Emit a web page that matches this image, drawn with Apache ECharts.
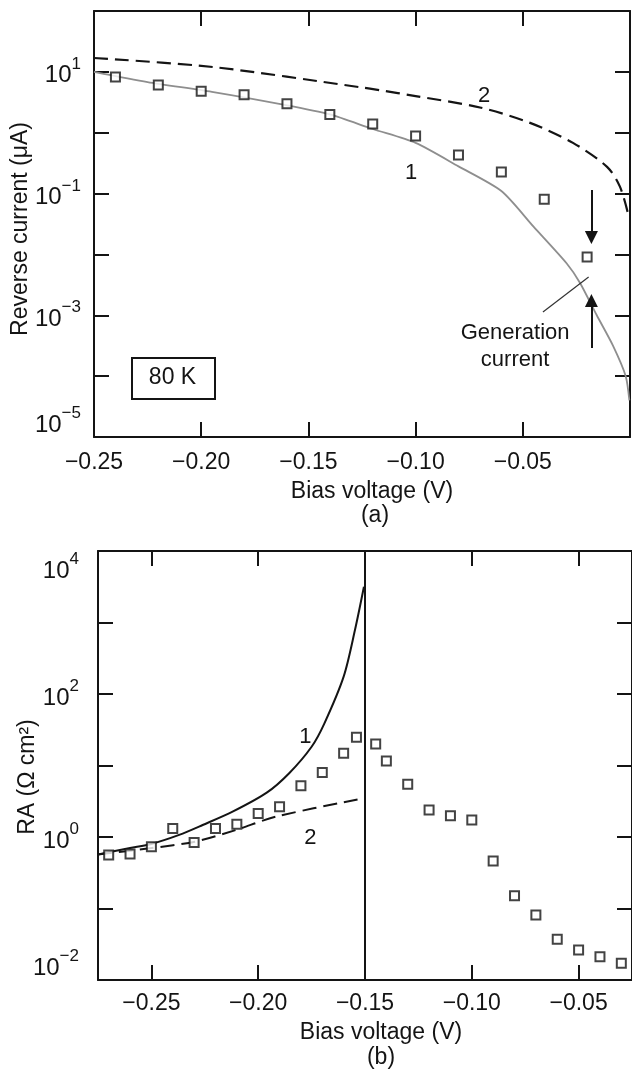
<!DOCTYPE html>
<html><head><meta charset="utf-8">
<script src="https://cdn.jsdelivr.net/npm/echarts@6/dist/echarts.min.js"></script>
<style>html,body{margin:0;padding:0;background:#fff}#c{width:632px;height:1073px}</style>
</head><body><div id="c"></div>
<script>
const FONT = '"Liberation Sans", Arial, Helvetica, sans-serif';
const INK = '#141414';

// ---------- panel (a): reverse current at 80 K ----------
const aSquareV = [-0.24, -0.22, -0.20, -0.18, -0.16, -0.14, -0.12, -0.10, -0.08, -0.06, -0.04, -0.02];
const aSquareI = [8.2, 6.1, 4.8, 4.2, 3.0, 2.0, 1.39, 0.88, 0.43, 0.226, 0.081, 0.0091];
const aCurve1V = [-0.25, -0.225, -0.195, -0.163, -0.14, -0.12, -0.10, -0.08, -0.06, -0.045, -0.0295, -0.0233, -0.0155, -0.008, -0.002, -0.0003];
const aCurve1I = [10, 6.8, 4.7, 2.95, 2.0, 1.15, 0.68, 0.28, 0.11, 0.0286, 0.0071, 0.0034, 0.001, 0.00032, 0.0001, 0.00004];
const aCurve2V = [-0.25, -0.1945, -0.126, -0.1166, -0.10, -0.07, -0.0466, -0.0266, -0.0107, -0.0047, -0.001];
const aCurve2I = [16.9, 12.0, 5.6, 5.0, 4.0, 2.6, 1.45, 0.68, 0.275, 0.13, 0.048];
const aXLabels = [-0.25, -0.20, -0.15, -0.10, -0.05];
const aXTicks = [-0.20, -0.15, -0.10, -0.05];

// ---------- panel (b): RA product ----------
const bSquareV = [-0.27, -0.26, -0.25, -0.24, -0.23, -0.22, -0.21, -0.20, -0.19, -0.18, -0.17, -0.16, -0.154, -0.145, -0.14, -0.13, -0.12, -0.11, -0.10, -0.09, -0.08, -0.07, -0.06, -0.05, -0.04, -0.03];
const bSquareRA = [0.56, 0.58, 0.73, 1.31, 0.84, 1.31, 1.51, 2.14, 2.65, 5.2, 8.0, 14.8, 24.8, 20.0, 11.6, 5.46, 2.39, 1.99, 1.73, 0.46, 0.151, 0.081, 0.037, 0.0263, 0.0212, 0.0171];
const bCurve1V = [-0.275, -0.26, -0.25, -0.237, -0.226, -0.212, -0.196, -0.1855, -0.175, -0.169, -0.16, -0.1547, -0.1505];
const bCurve1RA = [0.57, 0.70, 0.80, 1.07, 1.47, 2.26, 4.17, 7.8, 18.3, 38.9, 175, 785, 3160];
const bCurve2V = [-0.275, -0.25, -0.2296, -0.2106, -0.1919, -0.1508];
const bCurve2RA = [0.57, 0.70, 0.86, 1.25, 1.92, 3.47];
const bXLabels = [-0.25, -0.20, -0.15, -0.10, -0.05];
const bXTicksTop = [-0.25, -0.20, -0.10, -0.05];
const bDivider = -0.15;

const zip = (a, b) => a.map((v, i) => [v, b[i]]);
const fmtV = v => (v < 0 ? '\u2212' : '') + Math.abs(v).toFixed(2);
const powFmt = keep => v => {
  const e = Math.round(Math.log10(v));
  if (!keep(e)) return '';
  return '{b|10}{s|' + (e < 0 ? '\u2212' + (-e) : e) + '}';
};
const rich = {
  b: {fontSize: 24, fontFamily: FONT, color: INK, lineHeight: 32, verticalAlign: 'bottom'},
  s: {fontSize: 17, fontFamily: FONT, color: INK, lineHeight: 17, verticalAlign: 'top'}
};
const axisLine = {show: true, onZero: false, lineStyle: {color: INK, width: 2}};
const tick = (vals) => {
  const t = {show: true, inside: true, length: 15, lineStyle: {color: INK, width: 2}};
  if (vals) t.customValues = vals;
  return t;
};
const xLabel = (vals, margin) => ({show: true, customValues: vals, formatter: fmtV, fontSize: 23, fontFamily: FONT, color: INK, margin: margin, showMinLabel: true, showMaxLabel: true, hideOverlap: false});

const sq = {symbol: 'rect', symbolSize: 9, itemStyle: {color: '#fff', borderColor: INK, borderWidth: 2}};
const txtPt = (name, coord) => ({name: name, coord: coord});
const ptLabel = {show: true, position: 'inside', formatter: '{b}', fontSize: 22, fontFamily: FONT, color: INK, lineHeight: 27};

const chart = echarts.init(document.getElementById('c'), null, {renderer: 'canvas'});
chart.setOption({
  backgroundColor: '#fff',
  animation: false,
  grid: [
    {left: 94, top: 11, width: 536, height: 426},
    {left: 98, top: 551, width: 537.5, height: 429}
  ],
  xAxis: [
    {gridIndex: 0, type: 'value', position: 'bottom', min: -0.25, max: 0, axisLine: axisLine, axisTick: tick(aXTicks), axisLabel: xLabel(aXLabels, 14), splitLine: {show: false}},
    {gridIndex: 0, type: 'value', position: 'top', min: -0.25, max: 0, axisLine: axisLine, axisTick: tick(aXTicks), axisLabel: {show: false}, splitLine: {show: false}},
    {gridIndex: 1, type: 'value', position: 'bottom', min: -0.275, max: -0.025, axisLine: axisLine, axisTick: tick(bXLabels), axisLabel: xLabel(bXLabels, 12), splitLine: {show: false}},
    {gridIndex: 1, type: 'value', position: 'top', min: -0.275, max: -0.025, axisLine: axisLine, axisTick: tick(bXTicksTop), axisLabel: {show: false}, splitLine: {show: false}}
  ],
  yAxis: [
    {gridIndex: 0, type: 'log', logBase: 10, position: 'left', min: 1e-5, max: 100, axisLine: axisLine, axisTick: tick(), splitLine: {show: false}, minorTick: {show: false},
     axisLabel: {show: true, margin: 13, formatter: powFmt(e => Math.abs(e) % 2 === 1), rich: rich, showMinLabel: true, showMaxLabel: true, hideOverlap: false, verticalAlignMinLabel: 'bottom'}},
    {gridIndex: 0, type: 'log', logBase: 10, position: 'right', min: 1e-5, max: 100, axisLine: axisLine, axisTick: tick(), splitLine: {show: false}, axisLabel: {show: false}},
    {gridIndex: 1, type: 'log', logBase: 10, position: 'left', min: 1e-2, max: 1e4, axisLine: axisLine, axisTick: tick(), splitLine: {show: false}, minorTick: {show: false},
     axisLabel: {show: true, margin: 19, formatter: powFmt(e => e % 2 === 0), rich: rich, showMinLabel: true, showMaxLabel: true, hideOverlap: false, verticalAlignMinLabel: 'bottom', verticalAlignMaxLabel: 'top'}},
    {gridIndex: 1, type: 'log', logBase: 10, position: 'right', min: 1e-2, max: 1e4, axisLine: axisLine, axisTick: tick(), splitLine: {show: false}, axisLabel: {show: false}}
  ],
  series: [
    {type: 'line', xAxisIndex: 0, yAxisIndex: 0, data: zip(aCurve1V, aCurve1I), showSymbol: false, smooth: 0.25,
     lineStyle: {color: '#8e8e8e', width: 1.8}, z: 2,
     markLine: {silent: true, symbol: ['none', 'none'], lineStyle: {color: '#333', width: 1.2, type: 'solid'}, label: {show: false},
       data: [[{coord: [-0.0406, 1.13e-3]}, {coord: [-0.0193, 4.26e-3]}]]}},
    {type: 'line', xAxisIndex: 0, yAxisIndex: 0, data: zip(aCurve2V, aCurve2I), showSymbol: false, smooth: 0.3,
     lineStyle: {color: INK, width: 2.2, type: [14, 7]}, z: 2,
     markPoint: {symbol: 'circle', symbolSize: 1, itemStyle: {color: 'rgba(0,0,0,0)'}, label: ptLabel,
       data: [txtPt('1', [-0.1021, 0.218]), txtPt('2', [-0.0681, 4.0]), txtPt('Generation\ncurrent', [-0.0536, 3.13e-4])]}},
    Object.assign({type: 'scatter', xAxisIndex: 0, yAxisIndex: 0, data: zip(aSquareV, aSquareI), z: 4,
     markLine: {silent: true, symbol: ['circle', 'triangle'], symbolSize: 13, symbolKeepAspect: true, z: 5,
       itemStyle: {color: INK},
       lineStyle: {color: INK, width: 2, type: 'solid'}, label: {show: false},
       data: [[{coord: [-0.018, 0.115], symbolSize: 0}, {coord: [-0.018, 0.019]}], [{coord: [-0.018, 2.9e-4], symbolSize: 0}, {coord: [-0.018, 1.75e-3]}]]}}, sq),

    {type: 'line', xAxisIndex: 2, yAxisIndex: 2, data: zip(bCurve1V, bCurve1RA), showSymbol: false, smooth: 0.3,
     lineStyle: {color: INK, width: 2}, z: 2,
     markLine: {silent: true, symbol: ['none', 'none'], lineStyle: {color: INK, width: 2, type: 'solid'}, label: {show: false}, data: [{xAxis: bDivider}]},
     markPoint: {symbol: 'circle', symbolSize: 1, itemStyle: {color: 'rgba(0,0,0,0)'}, label: ptLabel,
       data: [txtPt('1', [-0.1779, 25.3]), txtPt('2', [-0.1756, 0.96])]}},
    {type: 'line', xAxisIndex: 2, yAxisIndex: 2, data: zip(bCurve2V, bCurve2RA), showSymbol: false, smooth: 0.3,
     lineStyle: {color: INK, width: 2, type: [14, 7]}, z: 2},
    Object.assign({type: 'scatter', xAxisIndex: 2, yAxisIndex: 2, data: zip(bSquareV, bSquareRA), z: 4}, sq)
  ],
  graphic: [
    {type: 'rect', left: 131, top: 357, shape: {width: 83, height: 41}, style: {fill: '#fff', stroke: INK, lineWidth: 2}, z: 10},
    {type: 'text', x: 172.5, y: 378, style: {text: '80 K', font: '23px ' + FONT, fill: INK, align: 'center', verticalAlign: 'middle'}, z: 11},
    {type: 'text', x: 372, y: 492, style: {text: 'Bias voltage (V)', font: '23px ' + FONT, fill: INK, align: 'center', verticalAlign: 'middle'}},
    {type: 'text', x: 375, y: 516, style: {text: '(a)', font: '23px ' + FONT, fill: INK, align: 'center', verticalAlign: 'middle'}},
    {type: 'text', x: 21, y: 229, rotation: Math.PI / 2, style: {text: 'Reverse current (\u03bcA)', font: '23px ' + FONT, fill: INK, align: 'center', verticalAlign: 'middle'}},
    {type: 'text', x: 381, y: 1033, style: {text: 'Bias voltage (V)', font: '23px ' + FONT, fill: INK, align: 'center', verticalAlign: 'middle'}},
    {type: 'text', x: 381, y: 1058, style: {text: '(b)', font: '23px ' + FONT, fill: INK, align: 'center', verticalAlign: 'middle'}},
    {type: 'text', x: 28, y: 777, rotation: Math.PI / 2, style: {text: 'RA (\u03a9 cm\u00b2)', font: '23px ' + FONT, fill: INK, align: 'center', verticalAlign: 'middle'}}
  ]
});
</script></body></html>
